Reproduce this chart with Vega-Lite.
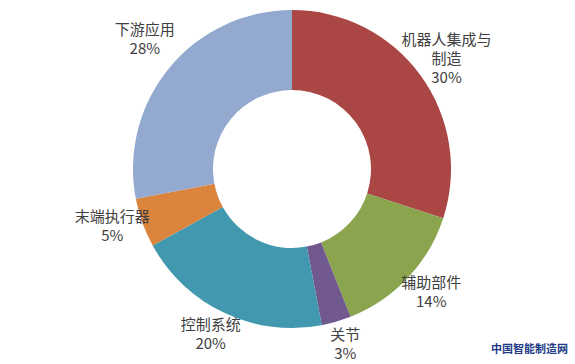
{
  "$schema": "https://vega.github.io/schema/vega-lite/v6.json",
  "autosize": "none",
  "width": 566,
  "height": 338,
  "padding": {"left": 9, "top": 0, "right": 0, "bottom": 26},
  "background": "white",
  "view": {"stroke": null},
  "title": {
    "text": "中国智能制造网",
    "orient": "top",
    "anchor": "end",
    "frame": "group",
    "offset": 0,
    "baseline": "top",
    "dx": -7,
    "dy": 355,
    "font": "Noto Sans CJK SC",
    "fontSize": 11,
    "fontWeight": "bold",
    "color": "#1d3a86"
  },
  "data": {
    "values": [
      {"i": 1, "name": "机器人集成与|制造", "value": 30},
      {"i": 2, "name": "辅助部件", "value": 14},
      {"i": 3, "name": "关节", "value": 3},
      {"i": 4, "name": "控制系统", "value": 20},
      {"i": 5, "name": "末端执行器", "value": 5},
      {"i": 6, "name": "下游应用", "value": 28}
    ]
  },
  "transform": [
    {"calculate": "datum.name + '|' + datum.value + '%'", "as": "label"}
  ],
  "encoding": {
    "theta": {"field": "value", "type": "quantitative", "stack": true},
    "order": {"field": "i", "type": "quantitative"},
    "color": {
      "field": "name",
      "type": "nominal",
      "sort": null,
      "legend": null,
      "scale": {
        "domain": ["机器人集成与|制造", "辅助部件", "关节", "控制系统", "末端执行器", "下游应用"],
        "range": ["#aa4643", "#8aa54e", "#71588f", "#4198af", "#db843d", "#93a9cf"]
      }
    }
  },
  "layer": [
    {
      "mark": {"type": "arc", "outerRadius": 159, "innerRadius": 79}
    },
    {
      "mark": {
        "type": "text",
        "radius": 191,
        "dy": -17,
        "lineBreak": "|",
        "lineHeight": 19,
        "font": "Noto Sans CJK SC",
        "fontSize": 15,
        "align": "center",
        "baseline": "middle"
      },
      "encoding": {
        "text": {"field": "label", "type": "nominal"},
        "color": {"value": "#404040"}
      }
    }
  ]
}
